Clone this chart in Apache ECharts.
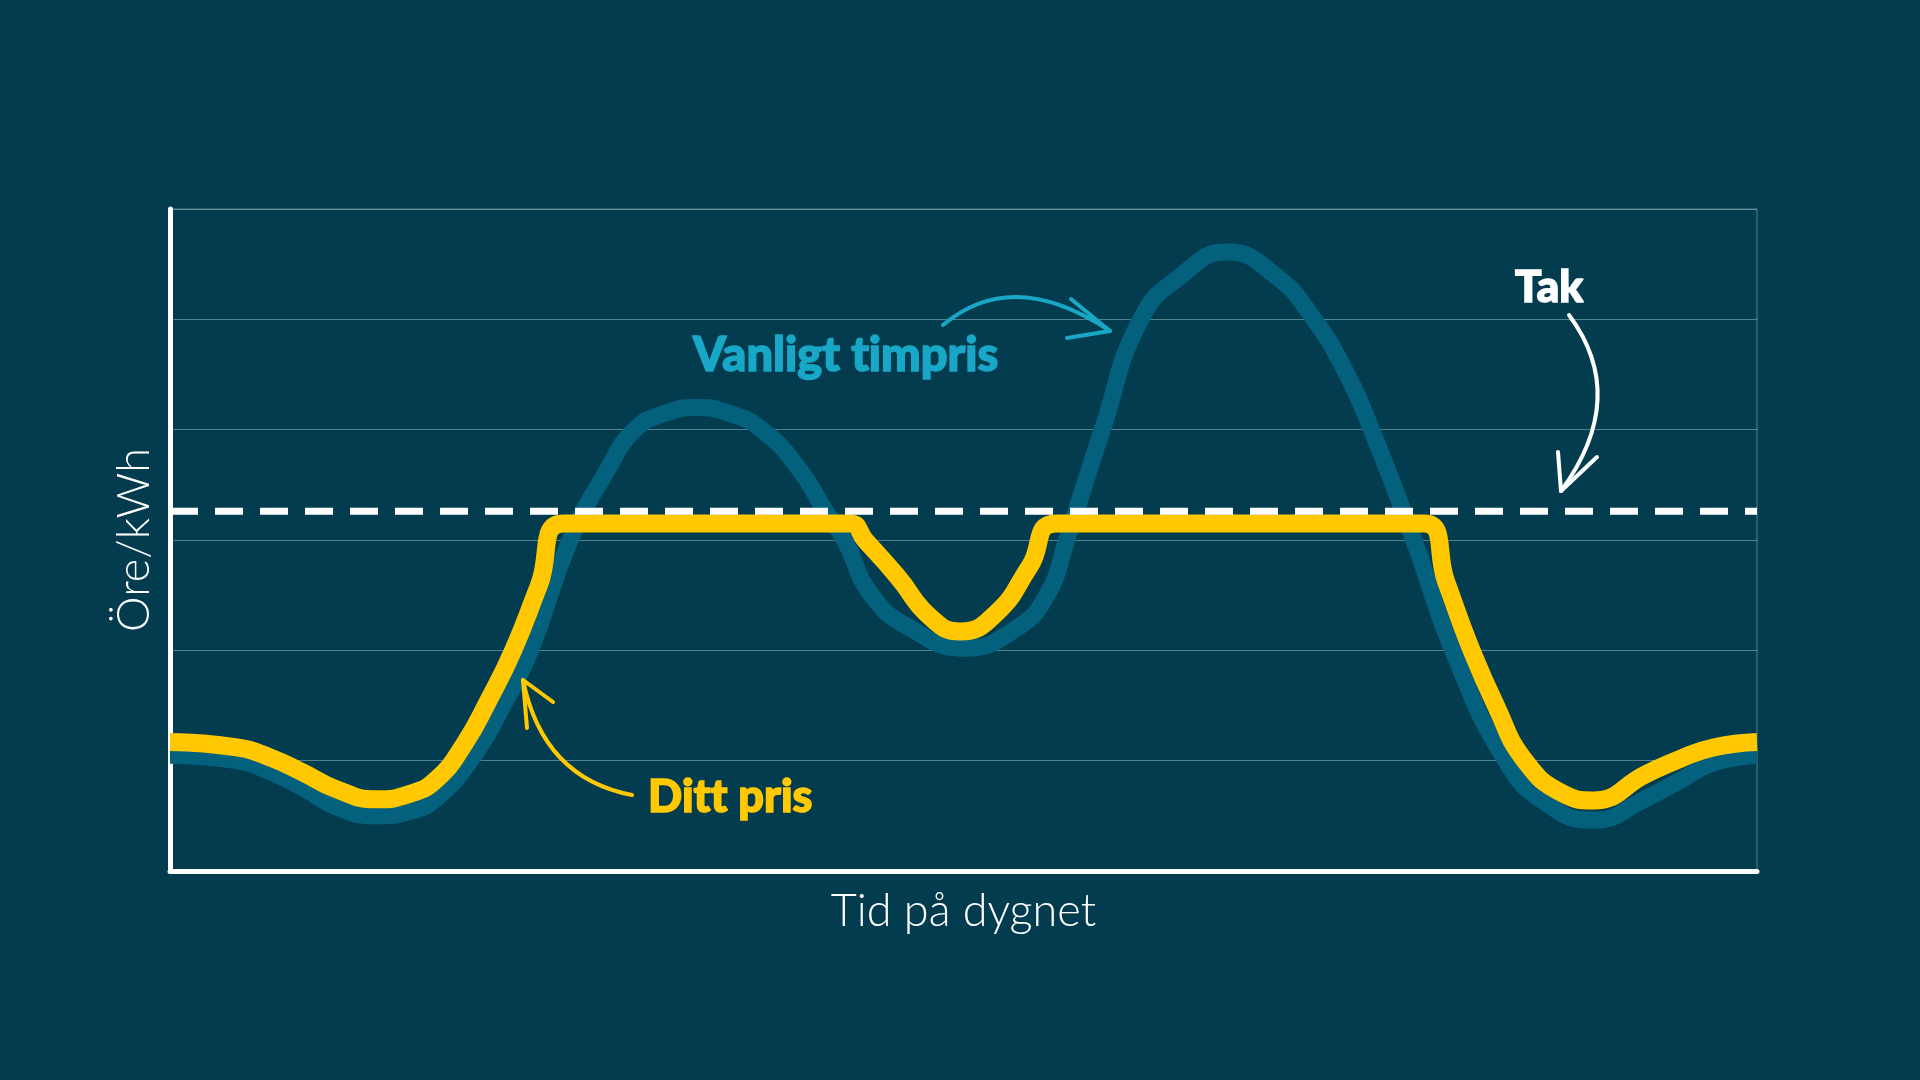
<!DOCTYPE html>
<html>
<head>
<meta charset="utf-8">
<script src="https://cdn.jsdelivr.net/npm/echarts@6/dist/echarts.min.js"></script>
<style>
  html, body { margin: 0; padding: 0; background: #033c4e; }
  #main { width: 1920px; height: 1080px; }
</style>
</head>
<body>
<div id="main"></div>
<script>
// vanligt timpris (blå): timme på dygnet och pris
var vanligtHours = [0, 1.0, 1.51, 2.02, 2.52, 3.12, 3.63, 4.03, 4.54, 5.08, 5.45, 6.05, 6.61, 7.03, 7.5, 7.96, 8.45, 8.95,
  9.53, 9.91, 10.2, 10.61, 11.2, 12.02, 12.8, 13.26, 13.56, 14.1, 14.68, 15.3, 15.98, 16.71, 17.3, 17.8, 18.17, 18.81,
  19.4, 20.2, 20.8, 21.52, 22.33, 22.83, 23.34, 24];
var vanligtValues = [1.05, 1.0, 0.90, 0.75, 0.58, 0.50, 0.54, 0.66, 1.0, 1.55, 2.0, 3.0, 3.63, 4.0, 4.15, 4.20, 4.15, 4.0,
  3.63, 3.26, 3.0, 2.5, 2.2, 2.02, 2.2, 2.5, 3.0, 4.0, 5.0, 5.4, 5.61, 5.4, 5.0, 4.5, 4.0, 3.0,
  2.0, 1.0, 0.62, 0.46, 0.66, 0.82, 0.98, 1.05];

// ditt pris (gul), kapat vid taket
var dittHours = [0, 1.01, 1.51, 2.02, 2.52, 3.12, 3.63, 4.03, 4.45, 4.82, 5.19, 5.58, 5.95, 10.28, 10.51, 11.0, 11.5,
  11.95, 12.5, 13.0, 13.41, 18.97, 19.3, 19.65, 20.05, 20.49, 21.07, 21.52, 22.33, 22.83, 23.34, 24];
var dittValues = [1.17, 1.12, 1.03, 0.89, 0.74, 0.65, 0.70, 0.83, 1.15, 1.55, 2.0, 2.59, 3.15, 3.15, 3.0, 2.67, 2.30,
  2.17, 2.34, 2.76, 3.15, 3.15, 2.62, 2.05, 1.50, 1.0, 0.70, 0.64, 0.88, 1.015, 1.12, 1.17];

var takValue = 3.26;
var yMax = 6;

function pairs(xs, ys) {
  var out = [];
  for (var i = 0; i < xs.length; i++) out.push([xs[i], ys[i]]);
  return out;
}

var chart = echarts.init(document.getElementById('main'));

var arrowStyle = function (color) {
  return { fill: 'none', stroke: color, lineWidth: 4, lineCap: 'round', lineJoin: 'round' };
};
var labelStyle = function (text, x, y, size, color) {
  return { text: text, x: x, y: y, verticalAlign: 'middle', fill: color, stroke: color, lineWidth: 1.5,
    fontSize: size, fontWeight: 900, fontFamily: 'Lato' };
};

var option = {
  backgroundColor: '#033c4e',
  animation: false,
  grid: {
    left: 170,
    right: 163,
    top: 209,
    bottom: 209,
    show: true,
    borderColor: 'rgba(150,185,195,0.55)',
    borderWidth: 1
  },
  xAxis: {
    type: 'value',
    min: 0,
    max: 24,
    name: 'Tid på dygnet',
    nameLocation: 'middle',
    nameGap: 18,
    nameTextStyle: { color: '#ffffff', fontSize: 45, fontFamily: 'Lato', fontWeight: 300 },
    axisLine: { show: true, lineStyle: { color: '#ffffff', width: 5 } },
    axisTick: { show: false },
    axisLabel: { show: false },
    splitLine: { show: false }
  },
  yAxis: {
    type: 'value',
    min: 0,
    max: yMax,
    interval: 1,
    name: 'Öre/kWh',
    nameLocation: 'middle',
    nameGap: 13,
    nameTextStyle: { color: '#ffffff', fontSize: 45, fontFamily: 'Lato', fontWeight: 300 },
    axisLine: { show: true, lineStyle: { color: '#ffffff', width: 5 } },
    axisTick: { show: false },
    axisLabel: { show: false },
    splitLine: { show: true, lineStyle: { color: 'rgba(150,185,195,0.55)', width: 1 } }
  },
  series: [
    {
      name: 'Vanligt timpris',
      type: 'line',
      data: pairs(vanligtHours, vanligtValues),
      smooth: 0.5,
      showSymbol: false,
      z: 2,
      lineStyle: { color: '#04617e', width: 17, cap: 'butt', join: 'round' }
    },
    {
      name: 'Ditt pris',
      type: 'line',
      data: pairs(dittHours, dittValues),
      smooth: 0.5,
      showSymbol: false,
      z: 3,
      lineStyle: { color: '#ffc800', width: 18, cap: 'butt', join: 'round' }
    },
    {
      name: 'Tak',
      type: 'line',
      data: [[0, takValue], [24, takValue]],
      showSymbol: false,
      z: 4,
      lineStyle: { color: '#ffffff', width: 7, type: [28, 17] }
    }
  ],
  graphic: [
    // etiketter
    { type: 'text', z: 10, style: labelStyle('Vanligt t\u200Cimpris', 693, 356, 47, '#19a7c7') },
    { type: 'text', z: 10, style: labelStyle('Dit\u200Ct pris', 648, 797, 45, '#ffc800') },
    { type: 'text', z: 10, style: labelStyle('Tak', 1515, 288, 44, '#ffffff') },
    // pilar
    { type: 'bezierCurve', z: 10, shape: { x1: 943, y1: 325, cpx1: 1013, cpy1: 266, x2: 1110, y2: 331 }, style: arrowStyle('#19a7c7') },
    { type: 'polyline', z: 10, shape: { points: [[1071, 299], [1110, 331], [1067, 338]] }, style: arrowStyle('#19a7c7') },
    { type: 'bezierCurve', z: 10, shape: { x1: 1569, y1: 315, cpx1: 1630, cpy1: 397, x2: 1561, y2: 491 }, style: arrowStyle('#ffffff') },
    { type: 'polyline', z: 10, shape: { points: [[1558, 452], [1561, 491], [1597, 457]] }, style: arrowStyle('#ffffff') },
    { type: 'bezierCurve', z: 10, shape: { x1: 632, y1: 795, cpx1: 543, cpy1: 778, x2: 523, y2: 680 }, style: arrowStyle('#ffc800') },
    { type: 'polyline', z: 10, shape: { points: [[553, 702], [523, 680], [527, 728]] }, style: arrowStyle('#ffc800') }
  ]
};

chart.setOption(option);
</script>
</body>
</html>
